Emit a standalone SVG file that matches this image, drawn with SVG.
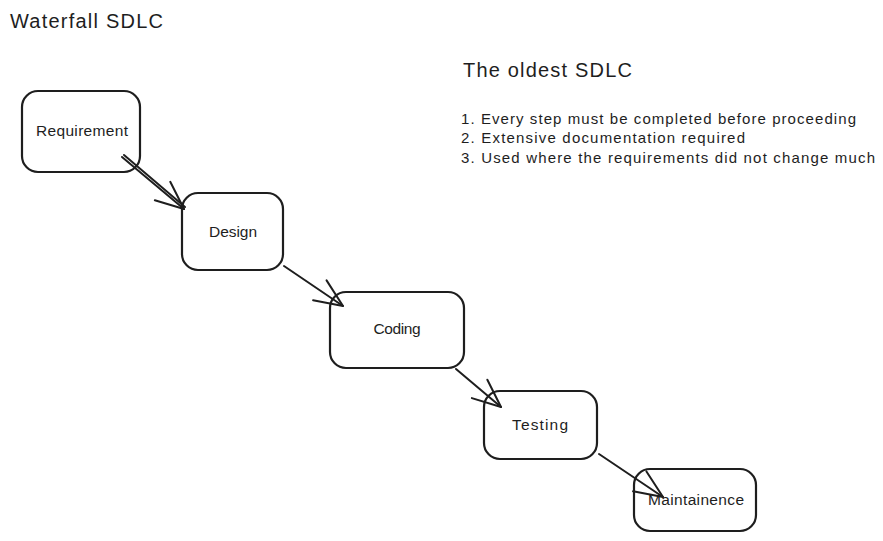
<svg xmlns="http://www.w3.org/2000/svg" width="883" height="541" viewBox="0 0 883 541">
<defs>
<style>
.box{fill:none;stroke:#1e1e1e;stroke-width:2.2;}
.lbl{font-family:"Liberation Sans",Arial,sans-serif;font-size:15.5px;fill:#1e1e1e;text-anchor:middle;}
.title{font-family:"Liberation Sans",Arial,sans-serif;font-size:20px;fill:#1e1e1e;}
.note{font-family:"Liberation Sans",Arial,sans-serif;font-size:15px;fill:#1e1e1e;}
.conn{fill:none;stroke:#1e1e1e;stroke-width:2;stroke-linecap:round;}
</style>
<marker id="ah" markerWidth="34" markerHeight="34" viewBox="-32 -16 34 32" refX="0" refY="0" orient="auto" markerUnits="userSpaceOnUse">
<path d="M-28,-12 L0,0 L-28,12" fill="none" stroke="#1e1e1e" stroke-width="2" stroke-linecap="round" stroke-linejoin="round"/>
</marker>
</defs>
<rect width="883" height="541" fill="#ffffff"/>
<text class="title" x="10" y="28" textLength="153">Waterfall SDLC</text>
<text class="title" x="463" y="77" textLength="169">The oldest SDLC</text>
<text class="note" x="461" y="124" textLength="395">1. Every step must be completed before proceeding</text>
<text class="note" x="461" y="143" textLength="284">2. Extensive documentation required</text>
<text class="note" x="461" y="163" textLength="414">3. Used where the requirements did not change much</text>
<g id="n-requirement"><rect class="box" x="22" y="91" width="118" height="81" rx="16"/><text class="lbl" x="82" y="136" textLength="92">Requirement</text></g>
<g id="n-design"><rect class="box" x="182" y="193" width="101" height="77" rx="16"/><text class="lbl" x="233" y="237" textLength="48">Design</text></g>
<g id="n-coding"><rect class="box" x="330" y="292" width="134" height="76" rx="16"/><text class="lbl" x="397" y="334" textLength="47">Coding</text></g>
<g id="n-testing"><rect class="box" x="484" y="391" width="113" height="68" rx="16"/><text class="lbl" x="540" y="430" textLength="56">Testing</text></g>
<g id="n-maintainence"><rect class="box" x="634" y="469" width="122" height="62" rx="16"/><text class="lbl" x="696" y="505" textLength="96">Maintainence</text></g>
<g id="connectors">
<path class="conn" d="M122,157 L184,209" marker-end="url(#ah)"/>
<path class="conn" d="M124,155 L185,207" stroke-width="1.5"/>
<path class="conn" d="M284,266 L343,306" marker-end="url(#ah)"/>
<path class="conn" d="M456,369 L501,407" marker-end="url(#ah)"/>
<path class="conn" d="M599,454 L663,497" marker-end="url(#ah)"/>
</g>
</svg>
